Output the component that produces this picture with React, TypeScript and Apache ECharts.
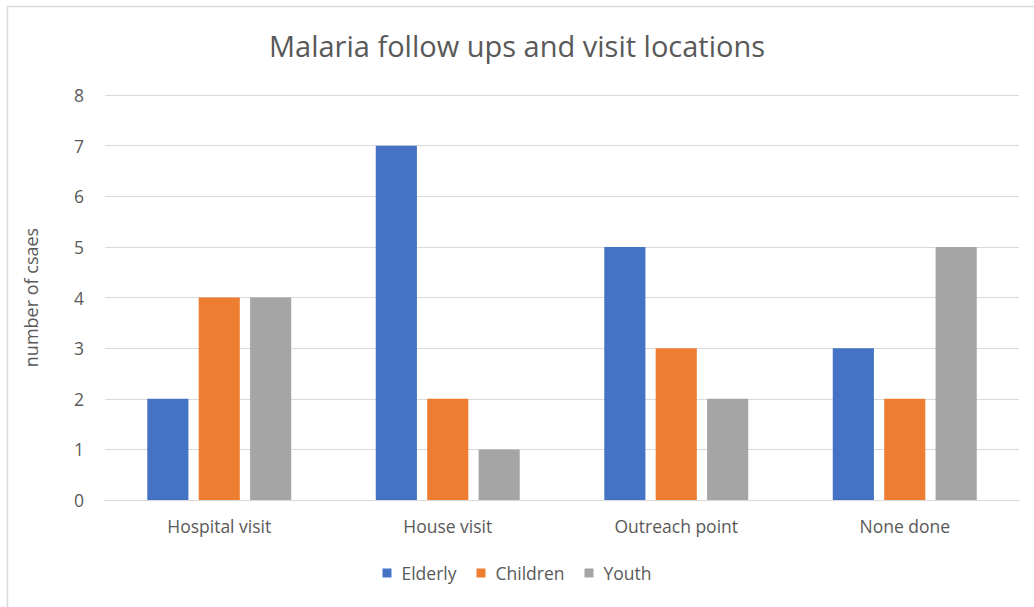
import React, { useEffect, useRef } from "react";
import * as echarts from "echarts";

const categories = ["Hospital visit", "House visit", "Outreach point", "None done"];
const elderly = [2, 7, 5, 3];
const children = [4, 2, 3, 2];
const youth = [4, 1, 2, 5];
const seriesNames = ["Elderly", "Children", "Youth"];
const colors = ["#4472C4", "#ED7D31", "#A5A5A5"];

export default function App() {
  const ref = useRef<HTMLDivElement>(null);
  useEffect(() => {
    const chart = echarts.init(ref.current!, null, { renderer: "svg" });
    const font = "'Open Sans', sans-serif";
    const data = [elderly, children, youth];
    chart.setOption({
      animation: false,
      backgroundColor: "#ffffff",
      textStyle: { fontFamily: font },
      graphic: [
        {
          type: "rect",
          shape: { x: 7.5, y: 6.5, width: 1040, height: 620 },
          style: { fill: "none", stroke: "#d9d9d9", lineWidth: 1.5 },
          silent: true,
        },
      ],
      title: {
        text: "Malaria follow ups and visit locations",
        left: "center",
        top: 26,
        textStyle: { fontFamily: font, fontSize: 29, fontWeight: "normal", color: "#595959" },
      },
      legend: {
        data: seriesNames,
        bottom: 20,
        left: "center",
        itemWidth: 9,
        itemHeight: 9,
        itemGap: 20,
        icon: "rect",
        textStyle: { fontFamily: font, fontSize: 17.5, color: "#595959", padding: [0, 0, 0, 5] },
      },
      grid: { left: 105, right: 15, top: 95, bottom: 107, containLabel: false },
      xAxis: {
        type: "category",
        data: categories,
        axisLine: { lineStyle: { color: "#d9d9d9", width: 1 } },
        axisTick: { show: false },
        axisLabel: { fontFamily: font, fontSize: 17.5, color: "#595959", margin: 17 },
      },
      yAxis: {
        type: "value",
        min: 0,
        max: 8,
        interval: 1,
        name: "number of csaes",
        nameLocation: "middle",
        nameGap: 65,
        nameTextStyle: { fontFamily: font, fontSize: 18, color: "#595959" },
        axisLine: { show: false },
        axisTick: { show: false },
        axisLabel: { fontFamily: font, fontSize: 17.5, color: "#595959", margin: 21 },
        splitLine: { lineStyle: { color: "#d9d9d9", width: 1 } },
      },
      series: seriesNames.map((name, i) => ({
        name,
        type: "bar",
        data: data[i],
        barWidth: "18%",
        barGap: "25%",
        itemStyle: { color: colors[i] },
      })),
    });
    return () => chart.dispose();
  }, []);
  return (
    <div
      ref={ref}
      style={{ position: "absolute", left: 0, top: 0, width: 1034, height: 607 }}
    />
  );
}
